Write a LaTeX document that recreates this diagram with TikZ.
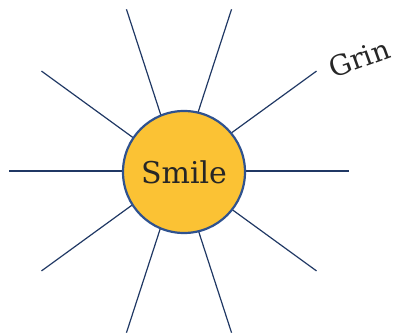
\documentclass[tikz,border=0pt]{standalone}
\usepackage{fontspec}
\setmainfont{DejaVu Serif}
\usetikzlibrary{calc}
\definecolor{spokeblue}{HTML}{203864}
\definecolor{ringblue}{HTML}{2F528F}
\definecolor{sungold}{HTML}{FBC234}
\begin{document}
\begin{tikzpicture}[x=1pt,y=-1pt,
  spoke/.style={draw=spokeblue,line width=1.2pt},
  sun/.style={circle,draw=ringblue,line width=2.2pt,fill=sungold,minimum size=122pt,inner sep=0pt,
    font=\fontsize{30}{32}\selectfont,text=black!85},
  label/.style={font=\fontsize{28}{30}\selectfont,text=black!85}]
\useasboundingbox (0,0) rectangle (394,334);
\coordinate (c) at (179,171);
\foreach \a in {0,36,...,324}{
  \coordinate (s\a) at ($(c)+(\a:170)$);
}
\foreach \a in {0,36,...,324}{
  \draw[spoke] (c) -- (s\a);
}
\node[sun] (smile) at (184,172) {Smile};
\node[label,rotate=20,inner sep=0pt] (grin) at (359,58) {Grin};
\end{tikzpicture}
\end{document}
